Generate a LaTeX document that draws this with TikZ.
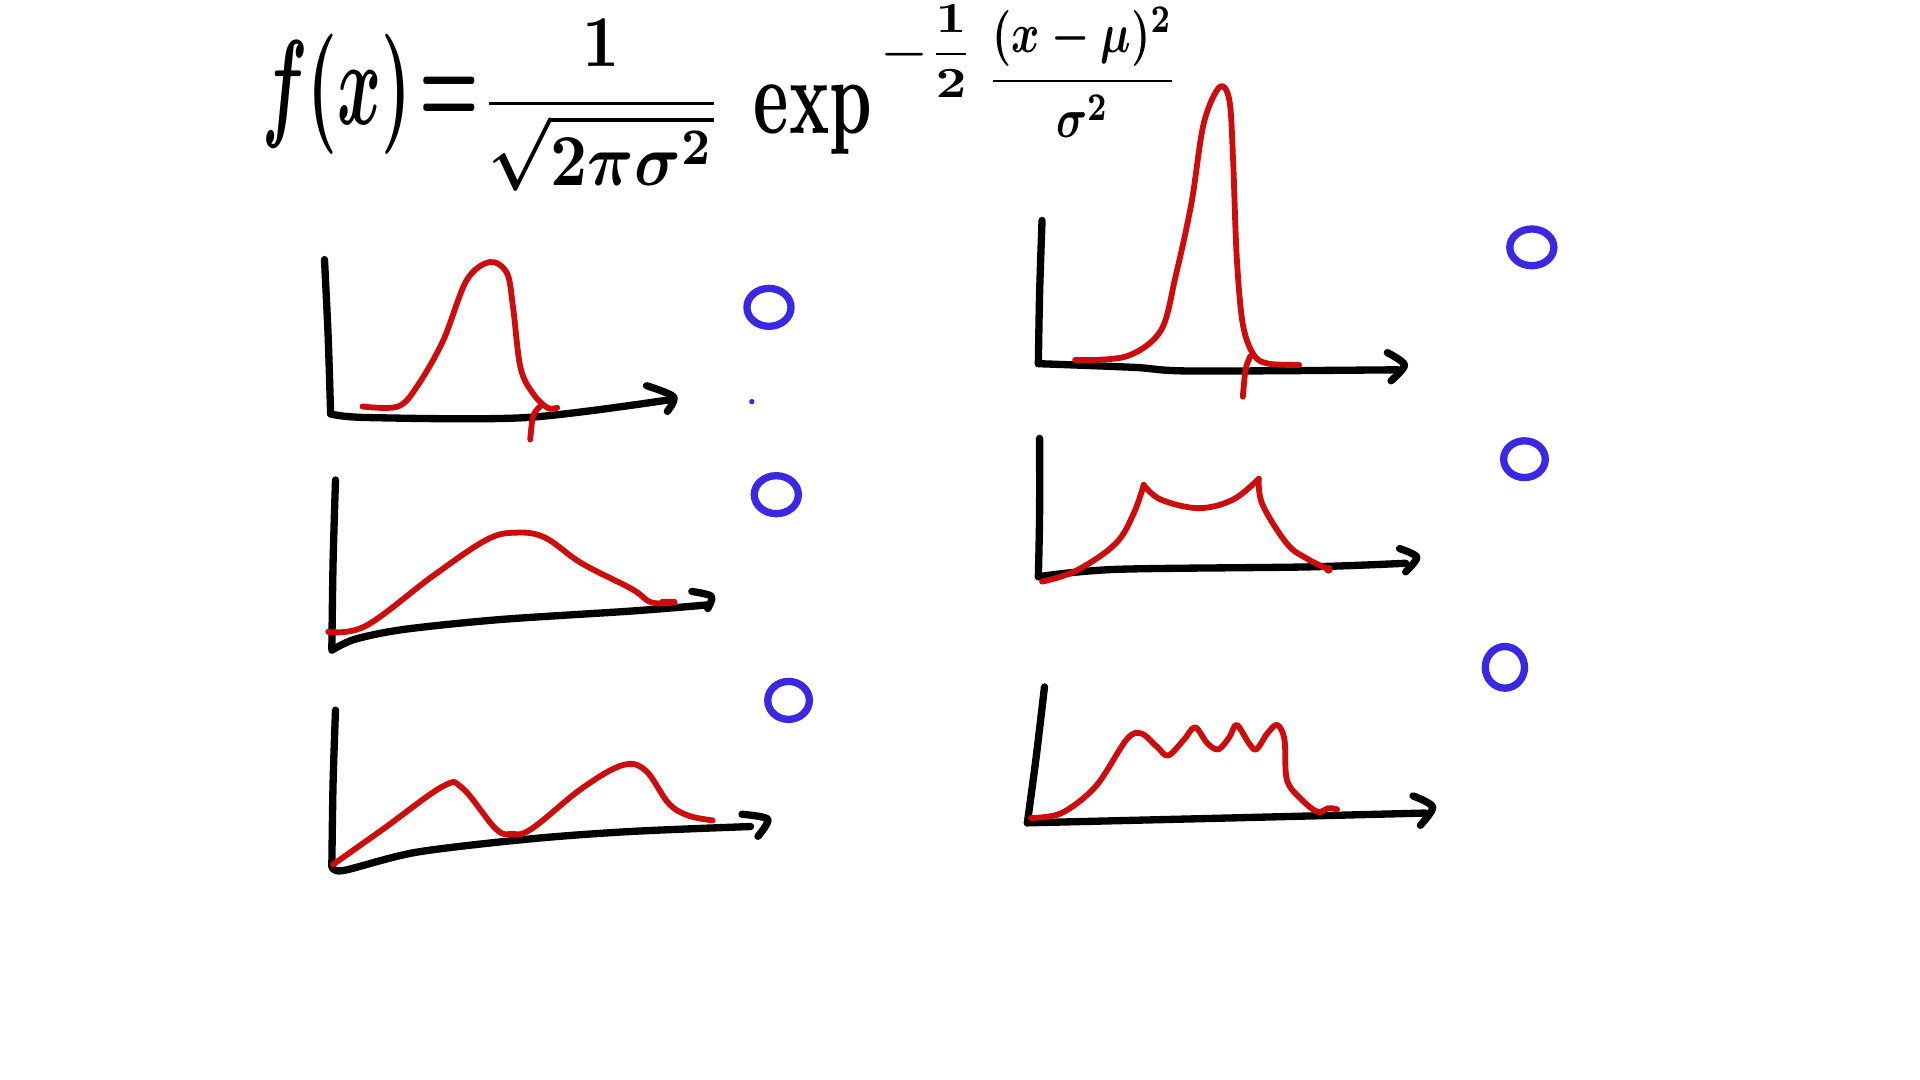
\documentclass[tikz,border=0pt]{standalone}
\usepackage{amsmath}
\definecolor{redpen}{RGB}{205,12,12}
\definecolor{bluepen}{RGB}{58,40,226}
\tikzset{
  ax/.style={line width=1.7pt, black, line cap=round, line join=round},
  curve/.style={line width=1.35pt, redpen, line cap=round, line join=round},
  radio/.style={line width=1.7pt, bluepen},
  eqn/.style={inner sep=0pt, outer sep=0pt, text=black}
}
\begin{document}
\boldmath
\begin{tikzpicture}[x=0.01cm, y=-0.01cm]
\fill[white] (0,0) rectangle (1568,882);
\useasboundingbox (0,0) rectangle (1568,882);

% formula
\node (fx) [eqn, xscale=1.55, yscale=2.8] at (303,77) {$f(x)\!=$};
\node (norm) [eqn, xscale=1.5, yscale=1.7] at (491,86) {$\dfrac{1}{\sqrt{2\pi\sigma^2}}$};
\node (ex) [eqn, xscale=1.55, yscale=2.5] at (664,98) {$\exp$};
\node (half) [eqn, xscale=1.25, yscale=1.0] at (757,42) {$-\dfrac{1}{2}$};
\node (quot) [eqn, xscale=1.0, yscale=1.3] at (884,59) {$\dfrac{(x-\mu)^2}{\sigma^2}$};

% plot 1 (top left)
\draw[ax] plot[smooth] coordinates {(265,212) (268,275) (270,338)};
\draw[ax] plot[smooth] coordinates {(270,338) (300,341) (430,341) (550,326)};
\draw[ax] plot[smooth] coordinates {(528,315) (550,324) (545,336)};
\draw[curve] plot[smooth, tension=0.55] coordinates {(296,332) (325,332) (341,315) (362,278) (381,229) (400,214) (414,223) (419,251) (425,300) (435,321) (447,333) (455,333)};
\draw[curve] (441,332) .. controls (435,338) .. (433,359);
\draw[radio] (628,251) ellipse [x radius=18, y radius=15.5];
\fill[bluepen] (614,328) circle [radius=2.2];

% plot 2 (middle left)
\draw[ax] plot[smooth] coordinates {(274,392) (272,460) (271,530)};
\draw[ax] plot[smooth] coordinates {(271,531) (290,522) (330,514) (408,506) (516,499) (578,494)};
\draw[ax] plot[smooth] coordinates {(565,483) (581,487) (578,497)};
\draw[curve] plot[smooth, tension=0.6] coordinates {(268,516) (299,511) (354,470) (397,441) (421,435) (445,439) (475,460) (516,481) (532,492) (551,492)};
\fill[redpen] (540,489) -- (552,489) -- (553,494) -- (537,494) -- cycle;
\draw[radio] (634,404) ellipse [x radius=18, y radius=15.5];

% plot 3 (bottom left)
\draw[ax] plot[smooth] coordinates {(274,580) (272,640) (271,707)};
\draw[ax] plot[smooth] coordinates {(271,707) (280,711) (340,696) (434,685) (516,679) (613,675)};
\draw[ax] plot[smooth] coordinates {(606,665) (627,669) (619,683)};
\draw[curve] plot[smooth, tension=0.6] coordinates {(272,706) (313,677) (362,642) (378,644) (405,677) (418,681) (434,677) (475,644) (508,625) (527,629) (546,656) (562,666) (582,670)};
\draw[radio] (644,572) ellipse [x radius=17, y radius=15.5];

% plot 4 (top right)
\draw[ax] plot[smooth] coordinates {(851,180) (849,240) (848,297)};
\draw[ax] plot[smooth] coordinates {(848,297) (926,300) (973,303) (1142,302)};
\draw[ax] plot[smooth] coordinates {(1133,288) (1147,298) (1136,311)};
\draw[curve] plot[smooth, tension=0.55] coordinates {(878,294) (920,291) (948,270) (960,226) (973,166) (983,101) (996,71) (1004,82) (1007,130) (1010,210) (1015,265) (1024,290) (1036,297) (1061,298)};
\draw[curve] (1021,291) .. controls (1017,300) .. (1015,324);
\draw[radio] (1251,202) ellipse [x radius=18, y radius=15];

% plot 5 (middle right)
\draw[ax] plot[smooth] coordinates {(849,358) (849,420) (848,471)};
\draw[ax] plot[smooth] coordinates {(848,471) (911,465) (1067,463) (1148,460)};
\draw[ax] plot[smooth] coordinates {(1143,448) (1157,455) (1148,467)};
\draw[curve] plot[smooth, tension=0.6] coordinates {(851,475) (879,466) (911,444) (926,419) (934,396)};
\draw[curve] plot[smooth, tension=0.6] coordinates {(934,396) (948,408) (979,415) (1007,408) (1028,391)};
\draw[curve] plot[smooth, tension=0.6] coordinates {(1028,391) (1031,412) (1051,444) (1067,456) (1085,465)};
\fill[redpen] (1085,465) circle [radius=3.5];
\draw[radio] (1245,375) ellipse [x radius=17, y radius=15];

% plot 6 (bottom right)
\draw[ax] plot[smooth] coordinates {(853,561) (846,620) (839,672)};
\draw[ax] plot[smooth] coordinates {(839,672) (1005,668) (1164,664)};
\draw[ax] plot[smooth] coordinates {(1154,650) (1170,659) (1160,674)};
\draw[curve] plot[smooth, tension=0.55] coordinates {(842,668) (867,664) (895,642) (920,604) (932,599) (945,610) (954,617) (967,604) (976,594) (986,607) (995,612) (1004,602) (1010,592) (1020,607) (1026,612) (1035,599) (1043,592) (1049,604) (1051,637) (1063,653) (1076,663) (1085,660) (1092,661)};
\draw[radio] (1229,545) ellipse [x radius=16, y radius=17];
\end{tikzpicture}
\end{document}
